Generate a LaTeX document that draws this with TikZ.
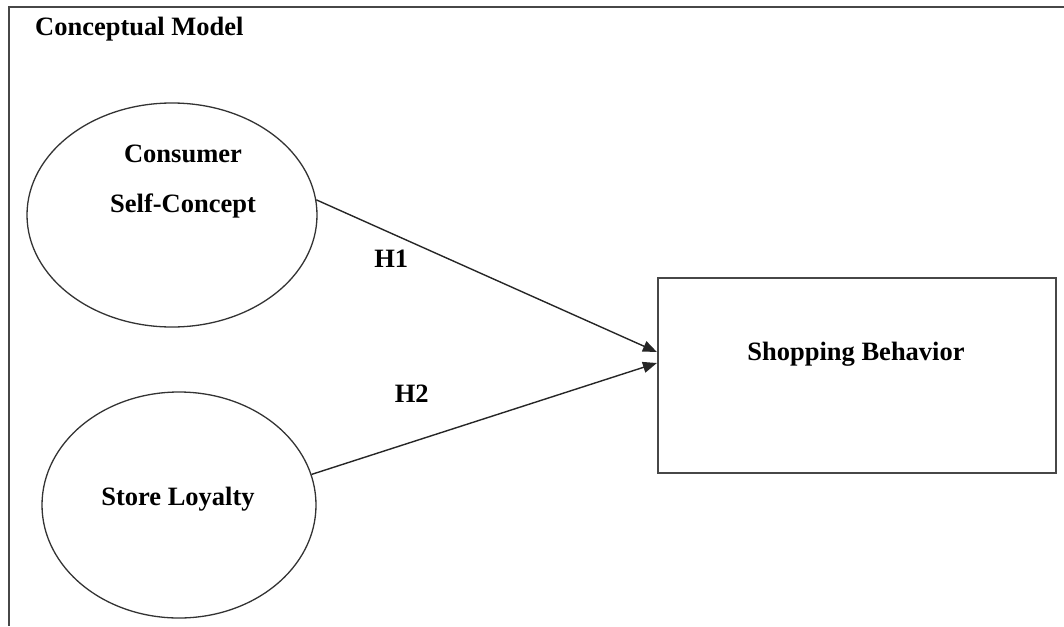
\documentclass[tikz,border=0pt]{standalone}
\usepackage{fontspec}
\setmainfont{Liberation Serif}
\usetikzlibrary{arrows.meta,shapes.geometric}
\begin{document}
\begin{tikzpicture}[x=1pt,y=-1pt,
  lbl/.style={font=\fontsize{26.5}{50}\selectfont\bfseries, inner sep=0pt, align=center},
  oval/.style={ellipse, draw=black!80, line width=1.3pt, inner sep=0pt},
  conn/.style={draw=black!85, line width=1.4pt, -{Triangle[length=14pt,width=11pt]}},
  frame/.style={draw=black!72, line width=2.2pt}
]
\useasboundingbox (0,0) rectangle (1064,626);
\draw[frame] (1064,7) -- (9,7) -- (9,626);
\node[lbl, anchor=west] (title) at (35,29) {Conceptual Model};

\node[oval, minimum width=290pt, minimum height=224pt] (cs) at (172,215) {};
\node[lbl] (cstext) at (183,182) {Consumer\\Self-Concept};

\node[oval, minimum width=274pt, minimum height=226pt] (sl) at (179,505) {};
\node[lbl] (sltext) at (178,499) {Store Loyalty};

\node[frame, rectangle, minimum width=398pt, minimum height=195pt, inner sep=0pt] (sb) at (857,375.5) {};
\node[lbl] (sbtext) at (856,354) {Shopping Behavior};

\draw[conn] (cs.6) -- ([yshift=23.5pt]sb.west) node[lbl, pos=0.22, below=15.5pt] (h1) {H1};
\draw[conn] (sl.13) -- ([yshift=12.5pt]sb.west) node[lbl, pos=0.29, above=39pt] (h2) {H2};
\end{tikzpicture}
\end{document}
